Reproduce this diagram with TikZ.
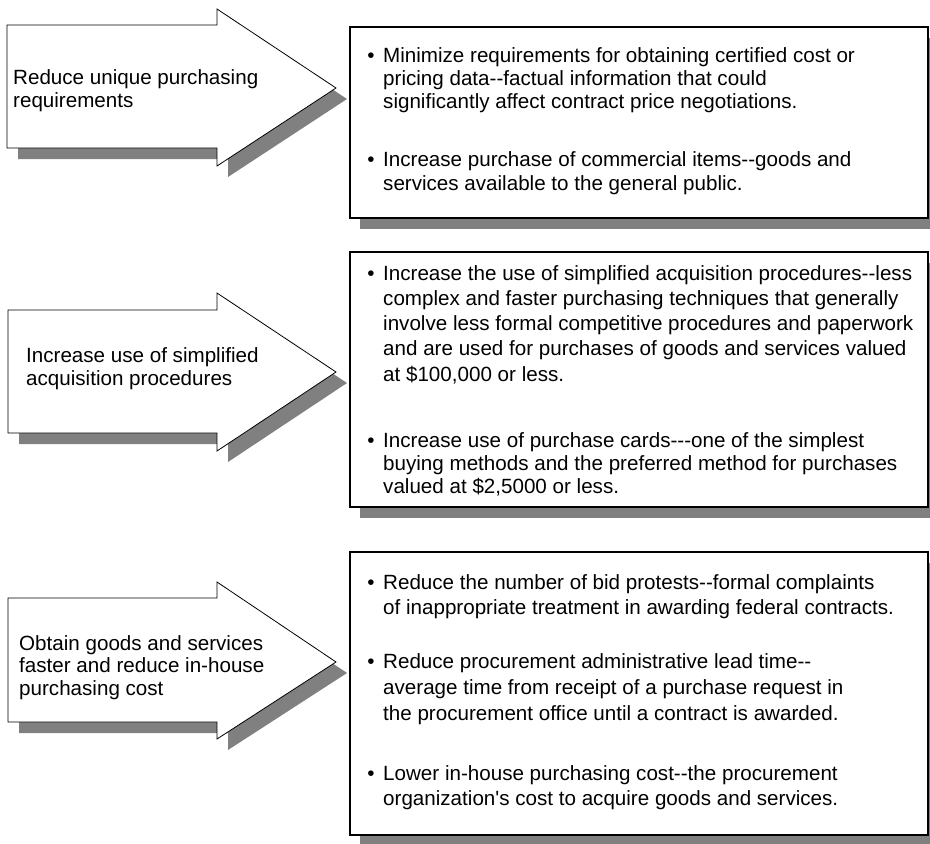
\documentclass[tikz,border=0pt]{standalone}
\usepackage{fontspec}
\newfontfamily\arialfont{Liberation Sans}
\usepackage{tikz}
\definecolor{shadowgray}{HTML}{808080}
\definecolor{fgblack}{HTML}{000000}

% goal arrow: name, left x, body top, body bottom, head top, head bottom, tip y
\newcommand{\goalarrow}[7]{%
  \fill[arrowshadow] (#2,#3) -- (217,#3) -- (217,#5) -- (336,#7) -- (217,#6) -- (217,#4) -- (#2,#4) -- cycle;
  \draw[goalshape] (#2,#3) -- (217,#3) -- (217,#5) -- (336,#7) -- (217,#6) -- (217,#4) -- (#2,#4) -- cycle;
  \coordinate (#1) at (336,#7);
}

\begin{document}
\begin{tikzpicture}[
  x=1pt, y=-1pt,
  arrowshadow/.style={fill=shadowgray, shift={(11,11)}},
  goalshape/.style={draw=fgblack, fill=white, line width=0.8pt, line join=miter},
  boxshadow/.style={fill=shadowgray},
  listbox/.style={draw=fgblack, fill=white, line width=2pt},
  goaltext/.style={font=\arialfont\fontsize{20.6}{22.5}\selectfont, align=left, anchor=base west, inner sep=0pt, text=fgblack},
  itemtext/.style={font=\arialfont\fontsize{20.6}{#1}\selectfont, align=left, anchor=base west, inner sep=0pt, text=fgblack},
]
  \useasboundingbox (0,0) rectangle (930,844);

  % Goal arrows (node base = last line)
  \goalarrow{tip1}{7}{25}{148}{9}{166}{88}
  \goalarrow{tip2}{8}{310}{433}{293}{451}{372}
  \goalarrow{tip3}{8}{598}{722}{582}{739}{662}

  \node[goaltext] (g1) at (13,107) {Reduce unique purchasing\\requirements};
  \node[goaltext] (g2) at (26,385) {Increase use of simplified\\acquisition procedures};
  \node[goaltext] (g3) at (19,695) {Obtain goods and services\\faster and reduce in-house\\purchasing cost};

  % Boxes
  \fill[boxshadow] (360,38) rectangle (930,229);
  \draw[listbox] (350,27) rectangle (928,218);
  \fill[boxshadow] (360,263) rectangle (930,518);
  \draw[listbox] (350,252) rectangle (928,507);
  \fill[boxshadow] (360,563) rectangle (930,846);
  \draw[listbox] (350,552) rectangle (928,835);

  % Box 1
  \node[itemtext=23] (b1a) at (383,108) {\llap{•\hspace{8.5pt}}Minimize requirements for obtaining certified cost or\\pricing data--factual information that could\\significantly affect contract price negotiations.};
  \node[itemtext=24] (b1b) at (383,190) {\llap{•\hspace{8.5pt}}Increase purchase of commercial items--goods and\\services available to the general public.};

  % Box 2
  \node[itemtext=25.2] (b2a) at (383,381) {\llap{•\hspace{8.5pt}}Increase the use of simplified acquisition procedures--less\\complex and faster purchasing techniques that generally\\involve less formal competitive procedures and paperwork\\and are used for purchases of goods and services valued\\at \$100,000 or less.};
  \node[itemtext=23] (b2b) at (383,493) {\llap{•\hspace{8.5pt}}Increase use of purchase cards---one of the simplest\\buying methods and the preferred method for purchases\\valued at \$2,5000 or less.};

  % Box 3
  \node[itemtext=25] (b3a) at (383,614) {\llap{•\hspace{8.5pt}}Reduce the number of bid protests--formal complaints\\of inappropriate treatment in awarding federal contracts.};
  \node[itemtext=26] (b3b) at (383,720) {\llap{•\hspace{8.5pt}}Reduce procurement administrative lead time--\\average time from receipt of a purchase request in\\the procurement office until a contract is awarded.};
  \node[itemtext=25] (b3c) at (383,805) {\llap{•\hspace{8.5pt}}Lower in-house purchasing cost--the procurement\\organization's cost to acquire goods and services.};
\end{tikzpicture}
\end{document}
